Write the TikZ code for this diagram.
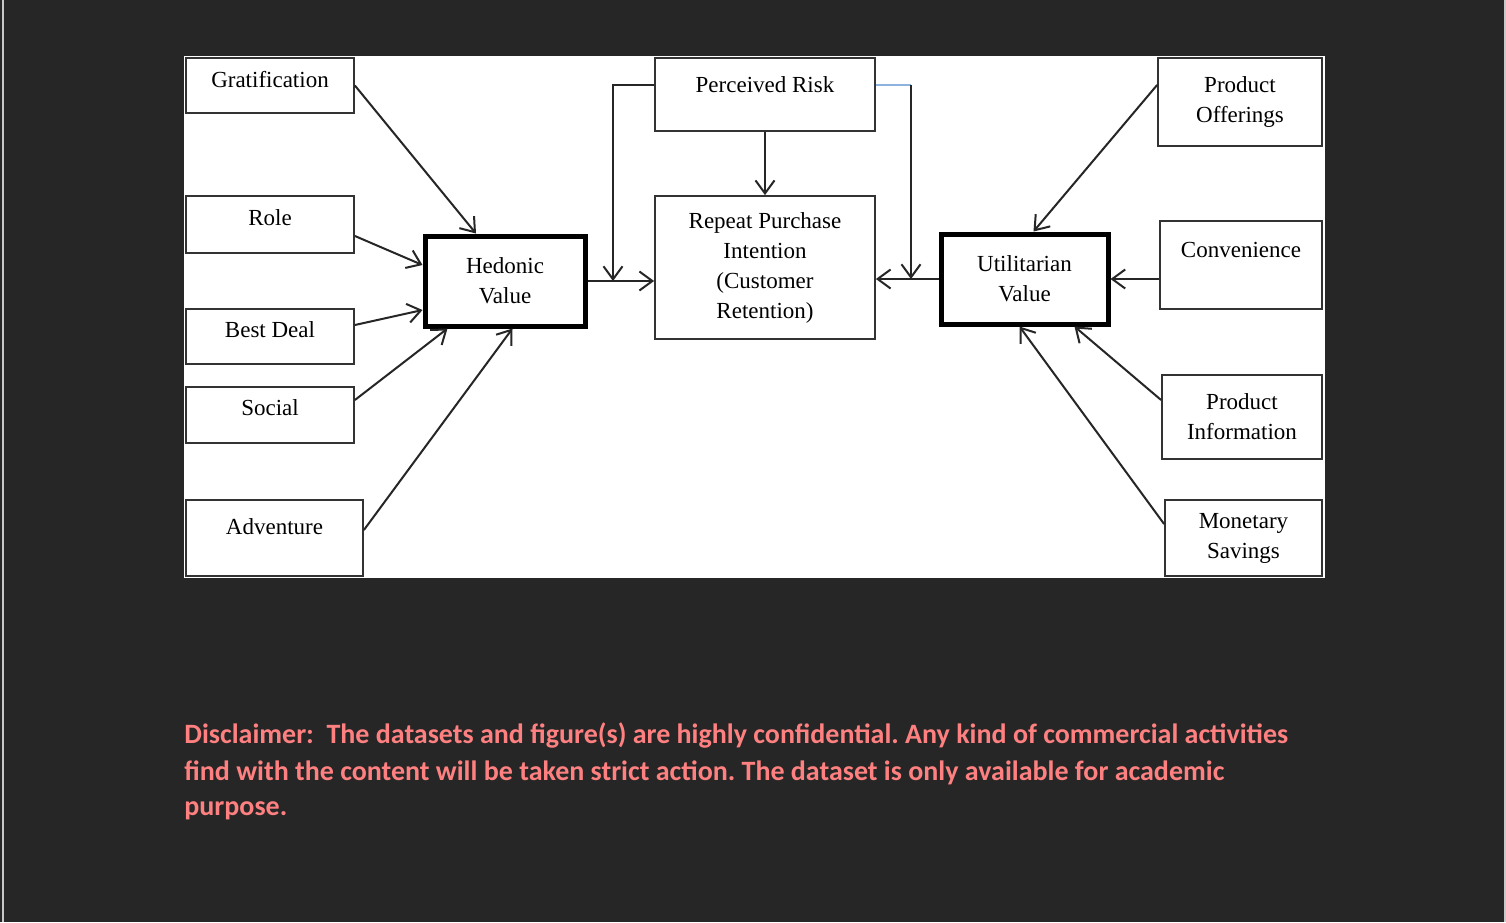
\documentclass[tikz,border=0pt]{standalone}
\usepackage{fontspec}
\setmainfont{Liberation Serif}
\newfontfamily\notefont{Carlito}
\usetikzlibrary{arrows.meta,calc}
\frenchspacing

\definecolor{bgdark}{HTML}{262626}
\definecolor{edgegray}{HTML}{C8C8C8}
\definecolor{boxline}{HTML}{333333}
\definecolor{notepink}{HTML}{FF8080}
\definecolor{riskblue}{HTML}{8FB3E0}

\tikzset{
  factor/.style={draw=boxline, line width=0.9pt, fill=white, rectangle, inner sep=0pt,
    align=center, font=\fontsize{11.5}{15}\selectfont},
  value/.style={factor, line width=2.5pt, draw=black},
  link/.style={->, line width=1pt, draw=black!85}
}

\begin{document}
\begin{tikzpicture}[x=0.5pt, y=-0.5pt, >={Straight Barb[length=6.5pt,width=9.5pt]}]

  % page and frame
  \fill[bgdark] (0,0) rectangle (1506,922);
  \useasboundingbox (0,0) rectangle (1506,922);
  \fill[edgegray] (2,0) rectangle (4,922);
  \fill[edgegray] (1504,0) rectangle (1506,922);
  \fill[white] (184,56) rectangle (1325,578);

  % hedonic side
  \node[factor, minimum width=84pt, minimum height=27.5pt, text depth=6pt] (grat) at (270,85.5) {Gratification};
  \node[factor, minimum width=84pt, minimum height=28.5pt, text depth=7pt] (role) at (270,224.5) {Role};
  \node[factor, minimum width=84pt, minimum height=27.5pt, text depth=7pt] (deal) at (270,336.5) {Best Deal};
  \node[factor, minimum width=84pt, minimum height=28pt, text depth=7pt] (social) at (270,415) {Social};
  \node[factor, minimum width=88.5pt, minimum height=38pt, text depth=11pt] (adv) at (274.5,538) {Adventure};
  \node[value, minimum width=80pt, minimum height=45pt] (hed) at (505,281) {Hedonic\\Value};

  % centre
  \node[factor, minimum width=110pt, minimum height=36.5pt, text depth=9.5pt] (risk) at (765,94.5) {Perceived Risk};
  \node[factor, minimum width=110pt, minimum height=71.5pt] (rpi) at (765,267.5) {Repeat Purchase\\Intention\\(Customer\\Retention)};

  % utilitarian side
  \node[value, minimum width=83.5pt, minimum height=45pt] (util) at (1024.5,279) {Utilitarian\\Value};
  \node[factor, minimum width=82pt, minimum height=44pt] (offer) at (1240,102) {Product\\Offerings};
  \node[factor, minimum width=81pt, minimum height=44pt, text depth=15pt] (conv) at (1241,265) {Convenience};
  \node[factor, minimum width=80pt, minimum height=42pt] (info) at (1242,417) {Product\\Information};
  \node[factor, minimum width=78.5pt, minimum height=38pt] (money) at (1243.5,538) {Monetary\\Savings};

  \coordinate (lt) at (613,85);
  \coordinate (lj) at (613,281);
  \coordinate (rt) at (911,85);
  \coordinate (rj) at (911,279);

  % arrows into hedonic value
  \draw[link] (grat.east) -- ($(hed.north)+(-29,0)$);
  \draw[link] ($(role.east)+(0,11.5)$) -- ($(hed.west)+(0,-16)$);
  \draw[link] ($(deal.east)+(0,-11.5)$) -- ($(hed.west)+(0,29)$);
  \draw[link] ($(social.east)+(0,-15)$) -- ($(hed.south west)+(25,0)$);
  \draw[link] ($(adv.east)+(0,-8)$) -- ($(hed.south west)+(90,0)$);

  % arrows into repeat purchase
  \draw[link] (hed.east) -- (hed.east -| rpi.west);
  \draw[link] (util.west) -- (util.west -| rpi.east);
  \draw[link] (risk.south) -- (rpi.north);
  \draw[link] (risk.west |- lt) -- (lt) -- (lj);
  \draw[riskblue, line width=1pt] (risk.east |- rt) -- (rt);
  \draw[link] (rt) -- (rj);

  % arrows into utilitarian value
  \draw[link] ($(offer.west)+(0,-17)$) -- ($(util.north west)+(95,0)$);
  \draw[link] (conv.west |- util.east) -- (util.east);
  \draw[link] ($(info.west)+(0,-17)$) -- ($(util.south west)+(136,0)$);
  \draw[link] ($(money.west)+(0,-14)$) -- ($(util.south west)+(81,0)$);

  % disclaimer
  \begin{scope}[every node/.style={anchor=base west, inner sep=0pt, text=notepink,
      font=\notefont\bfseries\fontsize{14}{18}\selectfont}]
    \node (note1) at (184,743) {Disclaimer:\ \ The datasets and figure(s) are highly confidential. Any kind of commercial activities};
    \node (note2) at (184,780) {find with the content will be taken strict action. The dataset is only available for academic};
    \node (note3) at (184,815) {purpose.};
  \end{scope}
\end{tikzpicture}
\end{document}
